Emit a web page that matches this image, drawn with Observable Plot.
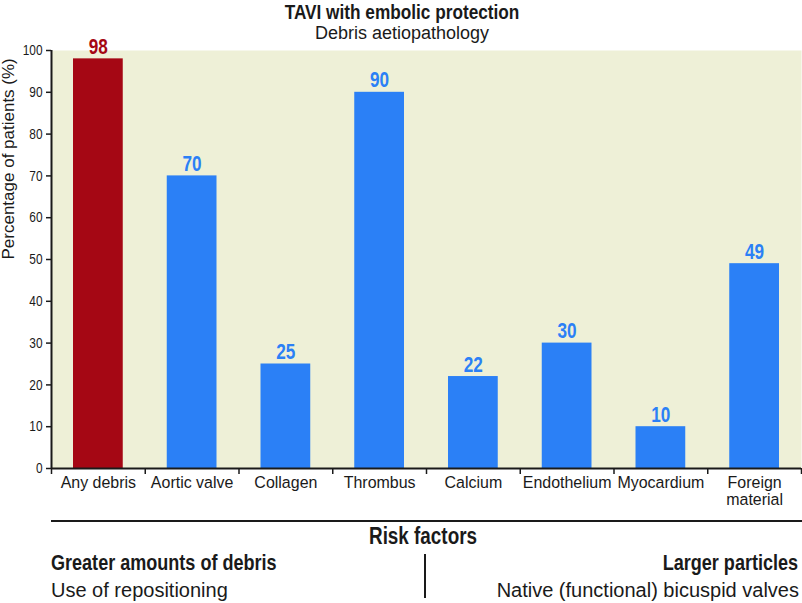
<!DOCTYPE html>
<html>
<head>
<meta charset="utf-8">
<script src="https://cdn.jsdelivr.net/npm/d3@7"></script>
<script src="https://cdn.jsdelivr.net/npm/@observablehq/plot@0.6"></script>
<style>
  html, body { margin: 0; padding: 0; background: #ffffff; }
  #fig { position: relative; width: 802px; height: 603px; overflow: hidden; color: #1a1a1a; }
  .t { position: absolute; white-space: nowrap; line-height: 1.2; font-family: "Liberation Sans", Arial, sans-serif; }
  .b { font-weight: bold; }
  #chart { position: absolute; left: 0; top: 0; }
  .hline { position: absolute; background: #1a1a1a; }
</style>
</head>
<body>
<div id="fig">
  <div id="chart"></div>
  <div class="t b" id="title" style="left:0;width:804px;text-align:center;top:0px;line-height:normal;font-size:21px;transform:scaleX(0.82);transform-origin:402px 0;"></div>
  <div class="t" id="subtitle" style="left:0;width:804px;text-align:center;top:23px;line-height:normal;font-size:18px;"></div>
  <div class="hline" style="left:51px;top:520px;width:751px;height:2px;"></div>
  <div class="t b" id="riskTitle" style="left:0;width:846px;text-align:center;top:523px;font-size:23px;transform:scaleX(0.82);transform-origin:423px 0;"></div>
  <div class="t b" id="leftHead" style="left:51px;top:550px;font-size:22px;transform:scaleX(0.82);transform-origin:0 0;"></div>
  <div class="t" id="leftBody" style="left:51px;top:578px;font-size:20px;"></div>
  <div class="hline" style="left:424px;top:554px;width:2px;height:44px;"></div>
  <div class="t b" id="rightHead" style="right:4px;top:550px;font-size:22px;transform:scaleX(0.82);transform-origin:100% 0;"></div>
  <div class="t" id="rightBody" style="right:3px;top:578px;font-size:20px;"></div>
</div>
<script>
// ---- Data ----
const titleText = "TAVI with embolic protection";
const subtitleText = "Debris aetiopathology";
const yLabel = "Percentage of patients (%)";
const categories = ["Any debris", "Aortic valve", "Collagen", "Thrombus", "Calcium", "Endothelium", "Myocardium", "Foreign\nmaterial"];
const values = [98, 70, 25, 90, 22, 30, 10, 49];
const highlightCategory = "Any debris";
const yTicks = [0, 10, 20, 30, 40, 50, 60, 70, 80, 90, 100];
const riskTitle = "Risk factors";
const riskHeads = ["Greater amounts of debris", "Larger particles"];
const riskItems = ["Use of repositioning", "Native (functional) bicuspid valves"];

// ---- Styles ----
const RED = "#a50714";
const BLUE = "#2b80f6";
const BEIGE = "#eef0d7";
const INK = "#1a1a1a";
const FONT = '"Liberation Sans", Arial, sans-serif';

document.getElementById("title").textContent = titleText;
document.getElementById("subtitle").textContent = subtitleText;
document.getElementById("riskTitle").textContent = riskTitle;
document.getElementById("leftHead").textContent = riskHeads[0];
document.getElementById("rightHead").textContent = riskHeads[1];
document.getElementById("leftBody").textContent = riskItems[0];
document.getElementById("rightBody").textContent = riskItems[1];

const data = categories.map((c, i) => ({cat: c, i, value: values[i]}));
const boundaries = d3.range(categories.length + 1);
const centers = data.map(d => d.i + 0.5);
const colorOf = d => d.cat === highlightCategory ? RED : BLUE;

const chart = Plot.plot({
  width: 802,
  height: 515,
  marginTop: 50,
  marginLeft: 51,
  marginRight: 1,
  marginBottom: 47,
  style: {background: "transparent", color: INK, fontFamily: FONT, overflow: "visible"},
  x: {domain: [0, categories.length], axis: null},
  y: {domain: [0, 100], axis: null},
  marks: [
    Plot.frame({fill: BEIGE, stroke: "none"}),
    Plot.rect(data, {
      x1: "i", x2: d => d.i + 1, y1: 0, y2: "value",
      insetLeft: 22, insetRight: 22,
      fill: colorOf
    }),
    Plot.text(data, {
      x: d => d.i + 0.5, y: "value", text: d => String(d.value),
      lineAnchor: "bottom", dy: -5,
      fill: colorOf, fontSize: 22, fontWeight: "bold",
      className: "cond78"
    }),
    Plot.axisY({
      ticks: yTicks, tickSize: 5, tickPadding: 4, tickFormat: d => String(d),
      fontSize: 14.5, stroke: INK, strokeWidth: 1.5, fill: INK, label: null,
      className: "cond82"
    }),
    Plot.text([yLabel], {
      frameAnchor: "left", rotate: -90, dx: -43, fontSize: 17, fill: INK
    }),
    Plot.axisX({
      ticks: boundaries, tickSize: 6, tickFormat: () => "",
      stroke: INK, strokeWidth: 1.5, label: null
    }),
    Plot.axisX({
      ticks: centers, tickSize: 0, tickPadding: 7,
      tickFormat: v => categories[Math.floor(v)],
      fontSize: 17, lineHeight: 1.0, fill: INK, label: null,
      className: "cond94"
    }),
    Plot.ruleX([0], {stroke: INK, strokeWidth: 2}),
    Plot.ruleY([0], {stroke: INK, strokeWidth: 2})
  ]
});

// Emulate a condensed face (narrow metrics) by horizontal scaling around each text's anchor
function condense(el, k) {
  const t = el.getAttribute("transform") || "";
  const x = +(el.getAttribute("x") || 0);
  el.setAttribute("transform", `${t} translate(${x},0) scale(${k},1) translate(${-x},0)`);
}
chart.querySelectorAll(".cond78 text").forEach(el => condense(el, 0.78));
chart.querySelectorAll(".cond82 text").forEach(el => condense(el, 0.82));
chart.querySelectorAll(".cond94 text").forEach(el => condense(el, 0.94));
document.getElementById("chart").appendChild(chart);
</script>
</body>
</html>
